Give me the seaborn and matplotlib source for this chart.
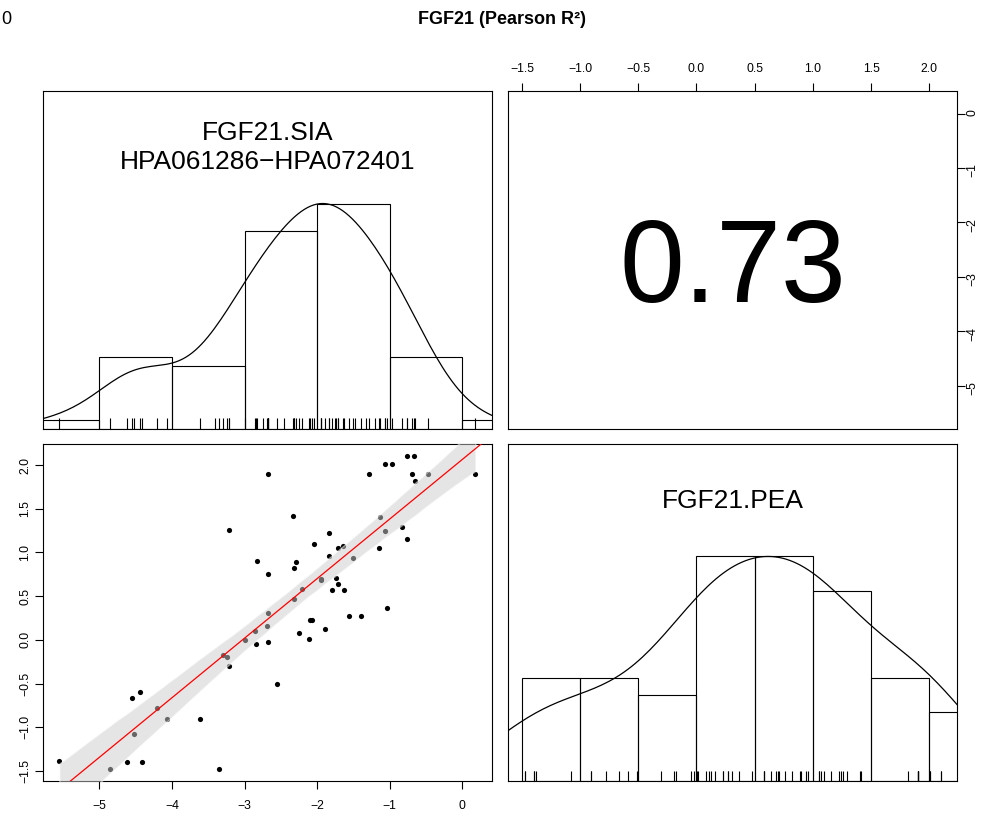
import numpy as np
import pandas as pd
import matplotlib
matplotlib.use("Agg")
import matplotlib.pyplot as plt
import seaborn as sns

# ---------------- data ----------------
sia_paired = [-5.554, -4.851, -4.616, -4.418, -4.520, -4.547, -4.437, -4.207, -4.064,
              -3.618, -3.352, -3.292, -3.237, -3.218, -3.209, -2.989, -2.837, -2.851,
              -2.823, -2.680, -2.671, -2.680, -2.690, -2.671, -2.552, -2.326, -2.317,
              -2.285, -2.313, -2.207, -2.244, -2.106, -2.097, -2.074, -2.046, -1.945,
              -1.940, -1.885, -1.839, -1.834, -1.793, -1.733, -1.710, -1.706, -1.637,
              -1.632, -1.563, -1.508, -1.389, -1.283, -1.140, -1.131, -1.062, -1.057,
              -1.034, -0.961, -0.823, -0.754, -0.763, -0.662, -0.685, -0.648, -0.464,
              0.184]
pea_paired = [-1.381, -1.476, -1.392, -1.392, -1.075, -0.664, -0.591, -0.774, -0.908,
              -0.908, -1.476, -0.175, -0.195, -0.301, 1.262, 0.004, -0.050, 0.107,
              0.900, 0.759, 1.903, 0.305, 0.160, -0.019, -0.507, 1.415, 0.824,
              0.892, 0.473, 0.584, 0.084, 0.011, 0.225, 0.225, 1.095, 0.698,
              0.683, 0.122, 1.220, 0.957, 0.576, 0.709, 0.637, 1.053, 1.072,
              0.576, 0.271, 0.938, 0.271, 1.903, 1.053, 1.407, 2.010, 1.243,
              0.366, 2.010, 1.289, 1.152, 2.098, 2.098, 1.903, 1.815, 1.903,
              1.903]
# SIA samples without a PEA value (only in the SIA histogram / rug)
sia_unpaired = [-3.41, -2.75, -2.45, -1.95, -1.75, -1.48, -1.33, -1.20]

main_title = "FGF21 (Pearson R²)"
sia_label = "FGF21.SIA\nHPA061286\u2212HPA072401"
pea_label = "FGF21.PEA"
r2_text = "0.73"
corner_text = "0"

sia_bins = [-6, -5, -4, -3, -2, -1, 0, 1]
pea_bins = [-1.5, -1.0, -0.5, 0.0, 0.5, 1.0, 1.5, 2.0, 2.5]
sia_ticks = [0, -1, -2, -3, -4, -5]
pea_ticks = [-1.5, -1.0, -0.5, 0.0, 0.5, 1.0, 1.5, 2.0]

# ---------------- style ----------------
sns.set_theme(style="ticks")
plt.rcParams["font.family"] = ["Liberation Sans", "DejaVu Sans"]
plt.rcParams["axes.edgecolor"] = "black"
plt.rcParams["axes.linewidth"] = 0.8
plt.rcParams["text.color"] = "black"
plt.rcParams["axes.labelcolor"] = "black"
plt.rcParams["xtick.color"] = "black"
plt.rcParams["ytick.color"] = "black"
plt.rcParams["xtick.labelcolor"] = "black"
plt.rcParams["ytick.labelcolor"] = "black"

sia_all = np.array(sia_paired + sia_unpaired)
pea_all = np.array(pea_paired)
df = pd.DataFrame({"SIA": sia_paired, "PEA": pea_paired})


def padded(v):
    lo, hi = np.min(v), np.max(v)
    r = hi - lo
    return lo - 0.04 * r, hi + 0.04 * r


def smooth_adjust(v):
    # R-like bandwidth relative to seaborn's Scott factor, a little wider
    v = np.asarray(v)
    sd = v.std(ddof=1)
    q75, q25 = np.percentile(v, [75, 25])
    return 1.3 * 0.9 * min(sd, (q75 - q25) / 1.34) / sd


sia_lim = padded(sia_all)
pea_lim = padded(pea_all)

fig = plt.figure(figsize=(9.88, 8.17), dpi=100)
L1, L2, W = 0.0432, 0.5142, 0.4548
B_top, B_bot, H = 0.4755, 0.0435, 0.4131
ax_tl = fig.add_axes([L1, B_top, W, H])
ax_tr = fig.add_axes([L2, B_top, W, H])
ax_bl = fig.add_axes([L1, B_bot, W, H])
ax_br = fig.add_axes([L2, B_bot, W, H])

TICK_FS = 8.8
TICK_LEN = 5.8


def diag_panel(ax, values, bins, lim, label):
    sns.histplot(x=values, bins=bins, stat="count", fill=False, element="bars",
                 color="black", linewidth=0.8, ax=ax)
    sns.rugplot(x=values, height=0.03, color="black", linewidth=0.8,
                expand_margins=False, ax=ax)
    counts = np.histogram(values, bins=bins)[0]
    ax.set_xlim(lim)
    ax.set_ylim(0, 1.5 * counts.max())
    ax.set(xlabel="", ylabel="")
    axk = ax.twinx()
    sns.kdeplot(x=values, bw_adjust=smooth_adjust(values), cut=3, color="black",
                linewidth=0.9, ax=axk)
    peak = max(l.get_ydata().max() for l in axk.lines)
    axk.set_ylim(0, 1.5 * peak)
    axk.set_xlim(lim)
    axk.set(ylabel="", yticks=[])
    axk.tick_params(left=False, right=False, bottom=False, top=False,
                    labelleft=False, labelright=False, labelbottom=False)
    for s in axk.spines.values():
        s.set_visible(False)
    ax.tick_params(left=False, right=False, bottom=False, top=False,
                   labelleft=False, labelright=False, labelbottom=False)
    ax.text(0.5, 0.832, label, transform=ax.transAxes, ha="center", va="center",
            fontsize=19, linespacing=1.25, color="black")


# ---- top-left: SIA diagonal ----
diag_panel(ax_tl, sia_all, sia_bins, sia_lim, sia_label)

# ---- bottom-right: PEA diagonal ----
diag_panel(ax_br, pea_all, pea_bins, pea_lim, pea_label)

# ---- top-right: correlation value ----
ax_tr.set_xlim(pea_lim)
ax_tr.set_ylim(sia_lim)
ax_tr.xaxis.tick_top()
ax_tr.yaxis.tick_right()
ax_tr.set_xticks(pea_ticks)
ax_tr.set_yticks(sia_ticks)
ax_tr.tick_params(axis="x", top=True, bottom=False, labeltop=True, labelbottom=False,
                  length=TICK_LEN, width=0.8, labelsize=TICK_FS, pad=5.5)
ax_tr.tick_params(axis="y", right=True, left=False, labelright=True, labelleft=False,
                  length=TICK_LEN, width=0.8, labelsize=TICK_FS, pad=1.0,
                  labelrotation=90)
ax_tr.text(0.5, 0.375, r2_text, transform=ax_tr.transAxes, ha="center",
           va="baseline", fontsize=84, color="black")

# ---- bottom-left: scatter with regression ----
sns.scatterplot(data=df, x="SIA", y="PEA", color="black", s=14, linewidth=0,
                ax=ax_bl, zorder=2)
sns.regplot(data=df, x="SIA", y="PEA", scatter=False, truncate=True, ci=95,
            seed=0, color="0.8", line_kws=dict(linewidth=0), ax=ax_bl)
band = ax_bl.collections[-1]
band.set_facecolor((0.8, 0.8, 0.8))
band.set_alpha(0.5)
band.set_zorder(3)
slope, intercept = np.polyfit(df["SIA"], df["PEA"], 1)
ax_bl.axline((0, intercept), slope=slope, color="red", linewidth=0.9, zorder=4)
ax_bl.set_xlim(sia_lim)
ax_bl.set_ylim(pea_lim)
ax_bl.set_xticks(sorted(sia_ticks))
ax_bl.set_yticks(pea_ticks)
ax_bl.set(xlabel="", ylabel="")
ax_bl.tick_params(axis="x", length=TICK_LEN, width=0.8, labelsize=TICK_FS, pad=7.5)
ax_bl.tick_params(axis="y", length=TICK_LEN, width=0.8, labelsize=TICK_FS, pad=2.5,
                  labelrotation=90)
for lab in ax_bl.get_yticklabels():
    lab.set_va("center")

for ax in (ax_tl, ax_tr, ax_bl, ax_br):
    for s in ax.spines.values():
        s.set_visible(True)
        s.set_color("black")
        s.set_linewidth(0.8)

fig.text(0.5086, 1 - 20 / 817, main_title, ha="center", va="center",
         fontsize=13, fontweight="bold", color="black")
fig.text(1 / 988, 1 - 19 / 817, corner_text, ha="left", va="center", fontsize=13,
         color="black")

fig.savefig("out.png", dpi=100)
